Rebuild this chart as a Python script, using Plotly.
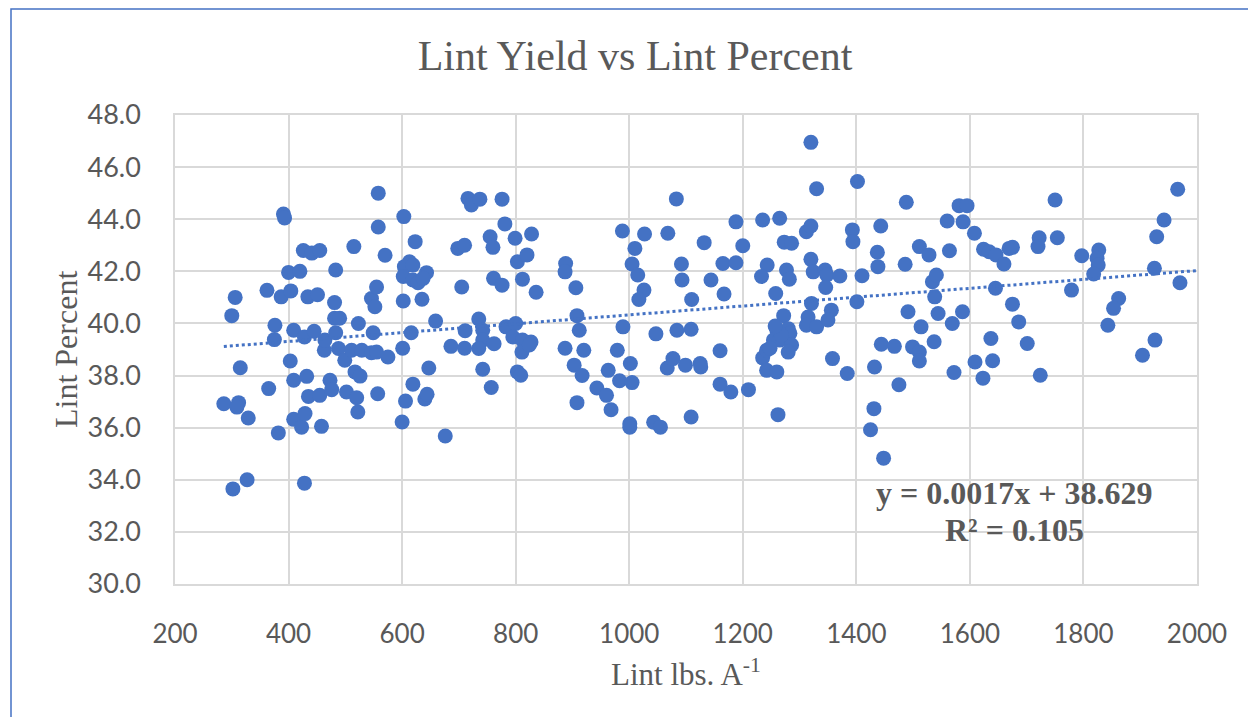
import plotly.graph_objects as go

# Lint yield (lbs/A) and lint percent
lint_lbs = [
    286, 312, 309, 302, 327, 300, 306, 315, 329, 362, 365, 376, 375, 382, 387, 391, 393,
    400, 404, 403, 409, 409, 409, 420, 423, 426, 428, 428, 429, 432, 434, 435, 441, 445,
    451, 455, 455, 458, 463, 464, 473, 476, 481, 481, 483, 483, 488, 490, 499, 502, 511,
    515, 517, 520, 522, 523, 526, 529, 546, 546, 549, 552, 555, 555, 557, 558, 558, 570,
    575,
    603, 623, 613, 604, 619, 602, 619, 628, 643, 637, 602, 635, 659, 616, 601, 647, 619,
    606, 640, 644, 600, 676, 698, 710, 705, 686, 710, 711,
    716, 722, 737, 776, 781, 755, 760, 799, 828, 803, 820, 761, 776, 812, 836, 735, 742,
    742, 735, 762, 742, 757, 783, 800, 795, 812, 827, 811, 824, 803, 809, 888, 887, 906,
    908, 912, 887, 903, 917, 908,
    920, 979, 963, 983, 1005, 1002, 943, 960, 968, 1001, 1001, 988, 989,
    1027, 1068, 1083, 1010, 1005, 1015, 1092, 1093, 1026, 1017, 1047, 1084, 1043, 1055,
    1067, 1077, 1099,
    1110, 1109, 1109, 1132, 1144, 1125, 1126, 1160, 1160, 1165, 1167, 1179, 1188, 1188, 1200,
    1210, 1235, 1265, 1273, 1286, 1243, 1233, 1277, 1282, 1258, 1272, 1260, 1254, 1265,
    1280, 1283, 1286, 1280, 1235, 1242, 1242, 1260, 1262, 1248, 1268, 1257,
    1320, 1330, 1312, 1320, 1393, 1394, 1320, 1324, 1345, 1348, 1371, 1346, 1321, 1315,
    1312, 1330, 1356, 1350, 1358, 1384,
    1402, 1410, 1401, 1443, 1437, 1438, 1486, 1488, 1491, 1432, 1444, 1467, 1499, 1475,
    1431, 1425, 1448,
    1511, 1528, 1564, 1534, 1541, 1538, 1514, 1537, 1544, 1569, 1587, 1511, 1511, 1572,
    1560, 1588, 1581, 1595,
    1608, 1624, 1634, 1646, 1660, 1645, 1637, 1609, 1623, 1640, 1669, 1675, 1675, 1686,
    1701, 1722, 1720, 1754, 1750, 1724, 1797, 1827, 1824, 1826, 1818, 1779, 1862, 1853,
    1843, 1904, 1926, 1925, 1929, 1942, 1966, 1970,
]

lint_pct = [
    36.92, 36.96, 36.79, 33.65, 34.0, 40.3, 41.0, 38.3, 36.37, 41.27, 37.5, 39.93, 39.38,
    35.8, 41.02, 44.2, 44.05,
    41.96, 41.25, 38.56, 39.74, 37.82, 36.32, 42.0, 36.02, 42.8, 39.48, 33.87, 36.54, 37.97,
    41.02, 37.2, 42.7, 39.7, 41.1, 42.8, 37.24, 36.05, 38.97, 39.36, 37.82, 37.46, 40.8,
    40.2, 42.05, 39.64, 39.04, 40.2, 38.59, 37.37, 38.97, 42.95, 38.14, 37.15, 36.6, 40.0,
    37.98, 38.97, 40.96, 38.88, 39.64, 40.64, 41.4, 38.9, 37.3, 45.0, 43.7, 42.62, 38.71,
    44.1, 43.14, 42.37, 42.18, 42.24, 41.8, 41.67, 41.56, 41.95, 41.73, 40.86, 40.93, 40.09,
    39.64, 39.05, 38.29, 37.67, 37.02, 37.1, 37.28, 36.22, 35.68, 42.88, 43.0, 41.4, 39.12,
    39.05, 39.72,
    44.8, 44.55, 44.77, 44.77, 43.82, 43.33, 42.92, 43.27, 43.43, 42.37, 42.63, 41.73, 41.47,
    41.7, 41.2, 40.17, 39.74, 39.36, 39.04, 39.22, 38.24, 37.54, 39.87, 40.0, 39.48, 39.36,
    39.29, 38.9, 39.17, 38.14, 38.01, 42.3, 41.98, 41.37, 40.3, 39.74, 39.05, 38.4, 38.0,
    36.96,
    38.97, 38.97, 38.2, 37.8, 37.73, 38.46, 37.52, 37.24, 36.69, 36.15, 36.02, 43.55, 39.87,
    43.43, 43.46, 44.78, 42.88, 42.28, 41.86, 42.28, 41.67, 41.28, 40.92, 39.6, 39.74, 36.21,
    36.02, 38.29, 38.65, 38.4,
    40.92, 39.78, 36.41, 43.1, 41.67, 38.46, 38.33, 38.95, 37.67, 42.3, 41.13, 37.37, 42.33,
    43.9, 42.98,
    37.46, 43.97, 44.04, 43.12, 43.08, 42.24, 41.8, 42.05, 41.7, 41.15, 40.3, 39.74, 39.36,
    39.36, 39.8, 39.62, 39.17, 38.9, 38.68, 38.97, 38.2, 38.14, 36.5, 39.05, 39.55, 39.9,
    46.95, 45.17, 43.52, 43.74, 43.59, 43.14, 42.46, 41.98, 42.05, 41.86, 41.82, 41.38,
    40.77, 40.25, 39.93, 39.87, 40.51, 40.13, 38.65, 38.08,
    45.45, 41.83, 40.83, 43.74, 42.73, 42.18, 42.27, 44.65, 40.45, 38.33, 39.2, 39.12, 39.1,
    37.65, 36.73, 35.92, 34.83,
    42.95, 42.63, 42.79, 41.6, 41.86, 41.02, 39.87, 39.3, 40.38, 40.0, 40.45, 38.9, 38.56,
    38.12, 43.93, 43.9, 44.52, 44.52,
    43.46, 42.85, 42.75, 42.63, 42.28, 41.35, 39.42, 38.52, 37.9, 38.57, 42.88, 42.92, 40.74,
    40.06,
    39.23, 43.29, 42.95, 43.29, 44.74, 38.01, 42.6, 42.82, 42.5, 42.24, 41.9, 41.28, 40.96,
    40.58, 39.93, 38.78, 39.36, 42.12, 43.33, 43.97, 45.15, 41.56,
]

# Linear trendline reported on the chart
trend_slope = 0.0017
trend_intercept = 38.629
r_squared = 0.105

x_ticks = [200, 400, 600, 800, 1000, 1200, 1400, 1600, 1800, 2000]
y_ticks = [30, 32, 34, 36, 38, 40, 42, 44, 46, 48]

BLUE = "#4472C4"
GRAY_TXT = "#595959"
GRID = "#d9d9d9"
SERIF = "Liberation Serif, Times New Roman, serif"
SANS = "Lato, Liberation Sans, sans-serif"

# plot-area pixel geometry (used only for positioning text/frame)
L, R, T, B = 175, 1197, 115, 584
PW, PH = R - L, B - T


def px(xp):
    return (xp - L) / PW


def py(yp):
    return (B - yp) / PH


trend_x = [min(lint_lbs), x_ticks[-1]]
trend_y = [trend_slope * v + trend_intercept for v in trend_x]

fig = go.Figure()
fig.add_trace(go.Scatter(
    x=lint_lbs, y=lint_pct, mode="markers",
    marker=dict(size=15, color=BLUE, line=dict(width=0)),
    showlegend=False, hoverinfo="x+y",
))
fig.add_trace(go.Scatter(
    x=trend_x, y=trend_y, mode="lines",
    line=dict(color=BLUE, width=3, dash="dot"),
    showlegend=False, hoverinfo="skip",
))

fig.update_layout(
    width=1248, height=717,
    margin=dict(l=L, r=1248 - R, t=T, b=717 - B),
    paper_bgcolor="white", plot_bgcolor="white",
    title=dict(text="Lint Yield vs Lint Percent", x=635 / 1248, xanchor="center",
               y=1 - 55 / 717, yanchor="middle",
               font=dict(family=SERIF, size=42, color=GRAY_TXT)),
    xaxis=dict(range=[200, 2000], tickvals=x_ticks, showgrid=True, gridcolor=GRID,
               gridwidth=1.5, showline=True, mirror=True, linecolor=GRID, linewidth=1.5,
               zeroline=False, ticks="outside", ticklen=26, tickcolor="rgba(0,0,0,0)",
               tickfont=dict(family=SANS, size=26, color=GRAY_TXT)),
    yaxis=dict(range=[30, 48], tickvals=y_ticks, tickformat=".1f", showgrid=True,
               gridcolor=GRID, gridwidth=1.5, showline=True, mirror=True, linecolor=GRID,
               linewidth=1.5, zeroline=False, ticks="outside", ticklen=27,
               tickcolor="rgba(0,0,0,0)",
               tickfont=dict(family=SANS, size=27, color=GRAY_TXT)),
    annotations=[
        dict(text="Lint lbs. A<sup>-1</sup>", xref="paper", yref="paper",
             x=px(686), y=py(672), xanchor="center", yanchor="middle",
             showarrow=False, font=dict(family=SERIF, size=31, color=GRAY_TXT)),
        dict(text="Lint Percent", xref="paper", yref="paper", textangle=-90,
             x=px(66), y=py(350), xanchor="center", yanchor="middle",
             showarrow=False, font=dict(family=SERIF, size=32, color=GRAY_TXT)),
        dict(text=f"<b>y = {trend_slope}x + {trend_intercept}</b>", xref="paper",
             yref="paper", x=px(1014), y=py(493), xanchor="center",
             yanchor="middle", showarrow=False,
             font=dict(family=SERIF, size=32, color=GRAY_TXT)),
        dict(text=f"<b>R² = {r_squared}</b>", xref="paper", yref="paper",
             x=px(1014), y=py(530), xanchor="center",
             yanchor="middle", showarrow=False,
             font=dict(family=SERIF, size=32, color=GRAY_TXT)),
    ],
    shapes=[
        dict(type="path", xref="paper", yref="paper",
             path=f"M {px(11)} {py(740)} L {px(11)} {py(9)} L {px(1270)} {py(9)}",
             line=dict(color=BLUE, width=1.5)),
    ],
)

fig.write_html("out.html", config={"displayModeBar": False},
               post_script="document.body.style.margin='0';document.body.style.overflow='hidden';")
